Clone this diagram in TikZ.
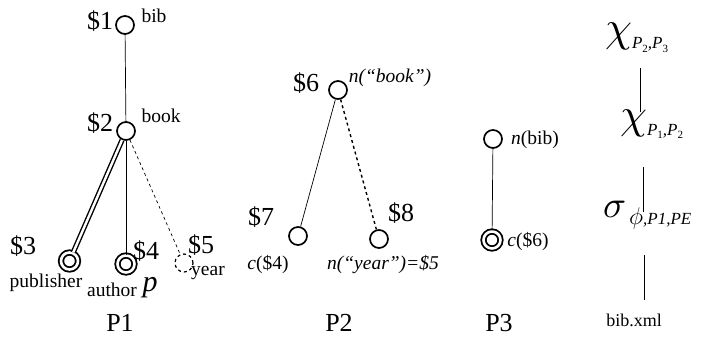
\documentclass[tikz,border=0pt]{standalone}
\usepackage{graphicx}
\usepackage{fontspec}
\setmainfont{Liberation Serif}
\usetikzlibrary{positioning}

\newcommand{\bigtxt}{\fontsize{26}{26}\selectfont}
\newcommand{\tagfont}{\fontsize{19.5}{19.5}\selectfont}
\newcommand{\opsub}[1]{\raisebox{-7pt}{\fontsize{17}{17}\selectfont\itshape #1}}
\newcommand{\idx}[1]{\raisebox{-3.5pt}{\fontsize{11}{11}\selectfont\upshape #1}}

\begin{document}
\begin{tikzpicture}[x=1pt, y=-1pt,
    every node/.style={inner sep=0pt},
    vtx/.style={circle, draw, line width=1.7pt, minimum size=18pt},
    vtxd/.style={circle, draw, line width=1.8pt, minimum size=17pt, double, double distance=2.6pt},
    vtxdash/.style={vtx, dashed, line width=1.2pt},
    dollar/.style={font=\bigtxt},
    tag/.style={font=\tagfont},
    edge/.style={line width=0.7pt},
    op/.style={anchor=west}]
\useasboundingbox (0,0) rectangle (707,340);

% P1
\node[vtx] (n1) at (125,25) {};
\node[vtx] (n2) at (126,131) {};
\node[vtxd] (n3) at (69.5,261) {};
\node[vtxd] (n4) at (126,264) {};
\node[vtxdash] (n5) at (184,263) {};
\draw[edge] (n1) -- (n2);
\draw[line width=1.4pt, double, double distance=2.4pt] (n2) -- (n3);
\draw[edge] (n2) -- (n4);
\draw[edge, dashed] (n2) -- (n5);
\node[dollar] (d1) at (100,21) {\$1};
\node[tag] (bib) at (154,16) {bib};
\node[dollar] (d2) at (100,123) {\$2};
\node[tag] (book) at (161,116) {book};
\node[dollar] (d3) at (23,246) {\$3};
\node[tag] (pub) at (46,283) {publisher};
\node[dollar] (d4) at (146,251) {\$4};
\node[tag] (auth) at (112,290) {author};
\node[font=\fontsize{30}{30}\selectfont\itshape] (pp) at (150,288) {p};
\node[dollar] (d5) at (201,245) {\$5};
\node[tag] (year) at (208,273) {year};
\node[dollar] (p1) at (120,323) {P1};

% P2
\node[vtx] (n6) at (338,90) {};
\node[vtx] (n7) at (298,236) {};
\node[vtx] (n8) at (379,239) {};
\draw[edge] (n6) -- (n7);
\draw[line width=1.4pt, dashed] (n6) -- (n8);
\node[dollar] (d6) at (306,83) {\$6};
\node[tag, font=\tagfont\itshape] (nbook) at (390,78) {n(“book”)};
\node[dollar] (d7) at (261,217) {\$7};
\node[dollar] (d8) at (401,213) {\$8};
\node[tag] (c4) at (268,265) {\textit{c}(\$4)};
\node[tag, font=\tagfont\itshape] (nyear) at (383,265) {n(“year”)=\$5};
\node[dollar] (p2) at (339,323) {P2};

% P3
\node[vtx] (n9) at (493,139) {};
\node[vtxd] (n10) at (492,240) {};
\draw[edge] (n9) -- (n10);
\node[tag] (nbib) at (535,140) {\textit{n}(bib)};
\node[tag] (c6) at (528,242) {\textit{c}(\$6)};
\node[dollar] (p3) at (499,323) {P3};

% plan
\node[op] (chiA) at (605,38) {\scalebox{4.3}{$\chi$}\opsub{P\idx{2},P\idx{3}}};
\node[op] (chiB) at (620,124) {\scalebox{4.3}{$\chi$}\opsub{P\idx{1},P\idx{2}}};
\node[op] (sig) at (603,215) {\scalebox{3.8}{$\sigma$}\opsub{\,\scalebox{1.4}{$\phi$},P1,PE}};
\node[font=\fontsize{18}{18}\selectfont] (xml) at (634,320) {bib.xml};
\coordinate (a1) at (640,68);
\coordinate (a2) at (640,112);
\coordinate (b1) at (643,167);
\coordinate (b2) at (643,212);
\coordinate (c1) at (644,255);
\coordinate (c2) at (644,300);
\draw[edge] (a1) -- (a2);
\draw[edge] (b1) -- (b2);
\draw[edge] (c1) -- (c2);
\end{tikzpicture}
\end{document}
